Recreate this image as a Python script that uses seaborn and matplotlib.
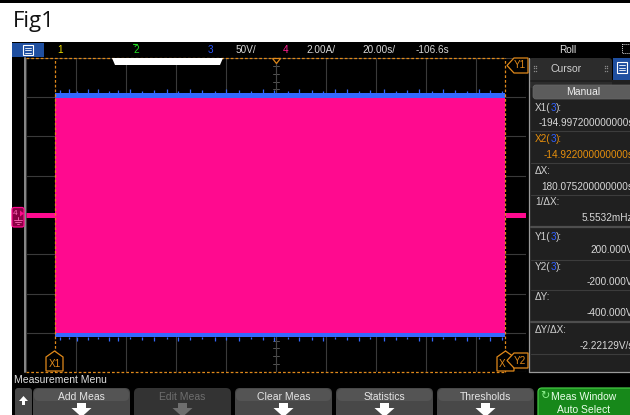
import numpy as np
import matplotlib
matplotlib.use("Agg")
import matplotlib.pyplot as plt
from matplotlib.patches import Rectangle, Polygon, FancyBboxPatch
import seaborn as sns

# scope settings
ch3_scale = 50.0      # V/div
ch4_scale = 2.0       # A/div
t_div = 20.0          # s/div
t_center = -106.6     # s
t_left = t_center - 5 * t_div
t_right = t_center + 5 * t_div

# channel 4 (current) envelope
ch4_t = [-206.6, -194.9972, -194.9972, -14.922, -14.922, -6.6]
ch4_hi = [0.0, 0.0, 5.95, 5.95, 0.0, 0.0]
ch4_lo = [0.0, 0.0, -6.0, -6.0, 0.0, 0.0]

# channel 3 (voltage) envelope
ch3_t = [-206.6, -194.9972, -194.9972, -14.922, -14.922, -6.6]
ch3_hi = [0.0, 0.0, 155.0, 155.0, 0.0, 0.0]
ch3_lo = [0.0, 0.0, -155.0, -155.0, 0.0, 0.0]

# noise spikes on the ch3 envelope edges
spk_t = [-193.2, -189.5, -186.1, -181.7, -178.0, -173.4, -169.8, -164.9, -160.3, -155.6,
         -150.2, -145.9, -141.1, -136.4, -131.0, -126.7, -121.5, -116.8, -111.9, -107.3,
         -102.0, -97.6, -92.4, -87.9, -83.1, -78.2, -73.5, -68.9, -63.6, -58.8,
         -54.1, -49.5, -44.2, -39.7, -35.0, -30.3, -25.6, -21.0, -16.4]
spk_hi = [159, 160, 158, 160, 161, 158, 159, 160, 158, 159, 161, 158, 160, 159, 158, 160,
          159, 158, 161, 159, 158, 160, 159, 158, 160, 161, 158, 159, 160, 158, 159, 161,
          158, 160, 159, 158, 160, 159, 158]
spk_lo = [-159, -158, -161, -159, -158, -160, -161, -158, -159, -160, -158, -161, -159, -158,
          -160, -159, -161, -158, -159, -160, -158, -161, -159, -160, -158, -159, -161, -158,
          -160, -159, -158, -161, -160, -158, -159, -161, -158, -160, -159]

# cursors
x1_val = -194.9972
x2_val = -14.922
y1_val = 200.0
y2_val = -200.0

status_items = [("1", "#f0e000"), ("2", "#22dd22"), ("3", "#2a55ff"), ("50V/", "#d8d8d8"),
                ("4", "#ff2090"), ("2.00A/", "#d8d8d8"), ("20.00s/", "#d8d8d8"),
                ("-106.6s", "#d8d8d8")]
status_x = [57, 133, 208, 236, 283, 306, 362, 416]

readout_labels = [[("X1(", "#d0d0d0"), ("3", "#3060ff"), ("):", "#d0d0d0")],
                  [("X2(", "#e8900c"), ("3", "#3060ff"), ("):", "#e8900c")],
                  [("ΔX:", "#d0d0d0")],
                  [("1/ΔX:", "#d0d0d0")],
                  [("Y1(", "#d0d0d0"), ("3", "#3060ff"), ("):", "#d0d0d0")],
                  [("Y2(", "#d0d0d0"), ("3", "#3060ff"), ("):", "#d0d0d0")],
                  [("ΔY:", "#d0d0d0")],
                  [("ΔY/ΔX:", "#d0d0d0")]]
readout_values = ["-194.997200000000s", "-14.922000000000s", "180.075200000000s", "5.5532mHz",
                  "200.000V", "-200.000V", "-400.000V", "-2.22129V/s"]
readout_colors = ["#d8d8d8", "#e8900c", "#d8d8d8", "#d8d8d8", "#d8d8d8", "#d8d8d8", "#d8d8d8", "#d8d8d8"]
label_y = [108, 139, 171, 202, 237, 267, 297, 330]
value_y = [123, 155, 187, 218, 250, 282, 313, 346]

buttons = ["Add Meas", "Edit Meas", "Clear Meas", "Statistics", "Thresholds"]
button_x = [33, 134, 235, 336, 437]

pink = "#ff0a8f"
blue = "#3468ff"
orange = "#e0891a"

sns.set_theme(style="dark")
plt.rcParams["font.family"] = ["Liberation Sans", "DejaVu Sans"]

fig = plt.figure(figsize=(6.3, 4.15), dpi=100)
fig.patch.set_facecolor("white")

# background / chrome in pixel coordinates
bg = fig.add_axes([0, 0, 1, 1], zorder=0)
bg.set_xlim(0, 630)
bg.set_ylim(415, 0)
bg.axis("off")


def rect(a, x0, y0, x1, y1, color, **kw):
    a.add_patch(Rectangle((x0, y0), x1 - x0, y1 - y0, facecolor=color, edgecolor="none", **kw))


rect(bg, 0, 0, 630, 3, "black")
bg.text(13, 22, "Fig1", fontsize=16, family=["Open Sans", "DejaVu Sans"], color="#111111",
        va="center", ha="left")
rect(bg, 12, 42, 630, 415, "black")

# status bar
rect(bg, 12, 43, 44, 57, "#1f4fa0")
bg.add_patch(Rectangle((23, 45.5), 10, 9.5, fill=False, edgecolor="white", lw=0.8))
for yy in (48, 50.3, 52.6):
    bg.plot([25, 31], [yy, yy], color="white", lw=0.6)
for (txt, col), xx in zip(status_items, status_x):
    bg.text(xx, 50, txt, color=col, fontsize=7.2, va="center", ha="left")
bg.plot([133, 137], [44.5, 44.5], color="#22dd22", lw=0.8)
bg.text(568, 50, "Roll", color="#e0e0e0", fontsize=7.2, va="center", ha="center")
bg.add_patch(Rectangle((622, 44), 10, 9, fill=False, edgecolor="#dddddd", lw=0.7, ls=(0, (1, 1))))

# left border of the graticule
bg.plot([25, 25], [58, 372], color="#8a8a8a", lw=1.4)

# cursor panel
rect(bg, 529, 80, 630, 372, "#202020")
bg.add_patch(FancyBboxPatch((529, 58), 83, 30, boxstyle="round,pad=0,rounding_size=3",
                            facecolor="#2c2c2c", edgecolor="none"))
rect(bg, 529, 80, 630, 82, "#202020")
rect(bg, 613, 58, 630, 80, "#1f4fa0")
bg.add_patch(Rectangle((617, 62.5), 10, 11, fill=False, edgecolor="white", lw=0.8))
for yy in (65.5, 68, 70.5):
    bg.plot([619, 625], [yy, yy], color="white", lw=0.6)
bg.plot([529, 529], [58, 372], color="#9a9a9a", lw=0.9)
bg.plot([529, 630], [372, 372], color="#9a9a9a", lw=0.9)
for dx in (533.5, 535.8, 604.5, 606.8):
    for dy in (66, 68.5, 71):
        bg.plot(dx, dy, marker="s", ms=0.9, color="#8a8a8a", mew=0)
bg.text(566, 69.5, "Cursor", color="#d0d0d0", fontsize=7.5, va="center", ha="center")
bg.add_patch(FancyBboxPatch((533, 85), 104, 14, boxstyle="round,pad=0,rounding_size=3",
                            facecolor="#5c5c5c", edgecolor="#6a6a6a", lw=0.5))
bg.text(583, 92, "Manual", color="#eeeeee", fontsize=7.5, va="center", ha="center")

for yy in (131, 163, 195, 260, 290, 354):
    bg.plot([531, 630], [yy, yy], color="#3c3c3c", lw=0.8)
for yy in (227, 322):
    bg.plot([531, 630], [yy, yy], color="#4e4e4e", lw=1.6)

fig.canvas.draw()
renderer = fig.canvas.get_renderer()
for parts, yy in zip(readout_labels, label_y):
    xx = 535
    for txt, col in parts:
        t = bg.text(xx, yy, txt, color=col, fontsize=7.2, va="center", ha="left")
        xx += t.get_window_extent(renderer=renderer).width
# values are right-aligned past the panel edge, so the last character is clipped as on the scope
for txt, col, yy in zip(readout_values, readout_colors, value_y):
    bg.text(633.5, yy, txt, color=col, fontsize=7.2, va="center", ha="right")

# measurement menu
bg.text(14, 380, "Measurement Menu", color="#e0e0e0", fontsize=7.5, va="center", ha="left")


def down_arrow(cx, color):
    bg.add_patch(Polygon([(cx - 4.5, 403), (cx + 4.5, 403), (cx + 4.5, 408), (cx + 10, 408),
                          (cx, 417), (cx - 10, 408), (cx - 4.5, 408)], closed=True,
                         facecolor=color, edgecolor="none"))


bg.add_patch(FancyBboxPatch((15, 388), 17, 35, boxstyle="round,pad=0,rounding_size=3",
                            facecolor="#474747", edgecolor="none"))
bg.add_patch(Polygon([(19, 401), (28, 401), (23.5, 396)], closed=True, facecolor="white",
                     edgecolor="none"))
rect(bg, 22, 401, 25, 405, "white")
for name, bx in zip(buttons, button_x):
    grey = name == "Edit Meas"
    bg.add_patch(FancyBboxPatch((bx, 388), 97, 35, boxstyle="round,pad=0,rounding_size=5",
                                facecolor="#333333" if grey else "#484848", edgecolor="none"))
    if not grey:
        bg.add_patch(FancyBboxPatch((bx + 1, 389), 95, 12, boxstyle="round,pad=0,rounding_size=5",
                                    facecolor="#545454", edgecolor="none"))
    bg.text(bx + 48.5, 396.5, name, color="#6e6e6e" if grey else "#e6e6e6", fontsize=7.5,
            va="center", ha="center")
    down_arrow(bx + 48.5, "#6e6e6e" if grey else "white")
bg.add_patch(FancyBboxPatch((538, 388), 100, 35, boxstyle="round,pad=0,rounding_size=4",
                            facecolor="#17881a", edgecolor="#44c844", lw=0.9))
bg.text(545, 396, "↻", color="#8ef08e", fontsize=8, va="center", ha="center",
        family=["DejaVu Sans"])
bg.text(584, 396.5, "Meas Window", color="#eaffea", fontsize=7.5, va="center", ha="center")
bg.text(584, 409.5, "Auto Select", color="#eaffea", fontsize=7.5, va="center", ha="center")

# graticule with the traces
ax = fig.add_axes([26 / 630, (415 - 372) / 415, 500 / 630, 314 / 415], zorder=1)
ax.set_facecolor("black")
ax.set_xlim(t_left, t_right)
ax.set_ylim(-4, 4)
ax.set_xticks(t_left + t_div * np.arange(11))
ax.set_yticks(np.arange(-4, 5))
ax.tick_params(length=0, labelbottom=False, labelleft=False)
ax.grid(True, color="#3a3a3a", lw=0.8)
for s in ax.spines.values():
    s.set_visible(False)
ax.set_xlabel("")
ax.set_ylabel("")

# minor ticks on the centre vertical line (under the traces)
for yy in np.arange(-4, 4.01, 0.2):
    ax.plot([t_center - 1.2, t_center + 1.2], [yy, yy], color="#555555", lw=0.7, zorder=0.6)
ax.plot([t_center, t_center], [-4, 4], color="#444444", lw=0.8, zorder=0.6)

# channel 3
ax.fill_between(ch3_t, np.array(ch3_lo) / ch3_scale, np.array(ch3_hi) / ch3_scale,
                color=blue, lw=0, zorder=1)
ax.vlines(spk_t, 155 / ch3_scale, np.array(spk_hi) / ch3_scale, color=blue, lw=0.9, zorder=1)
ax.vlines(spk_t, -155 / ch3_scale, np.array(spk_lo) / ch3_scale, color=blue, lw=0.9, zorder=1)

# channel 4
ax.fill_between(ch4_t, np.array(ch4_lo) / ch4_scale, np.array(ch4_hi) / ch4_scale,
                color=pink, lw=0, zorder=2)
sns.lineplot(x=ch4_t[:2], y=np.array(ch4_hi[:2]) / ch4_scale, ax=ax, color=pink, lw=3.6,
             solid_capstyle="butt", zorder=2)
sns.lineplot(x=ch4_t[-2:], y=np.array(ch4_hi[-2:]) / ch4_scale, ax=ax, color=pink, lw=3.6,
             solid_capstyle="butt", zorder=2)

# cursors
dash = (0, (2.2, 1.6))
for xv in (x1_val, x2_val):
    ax.axvline(xv, color=orange, lw=0.9, ls=dash, clip_on=False, zorder=3)
for yv in (y1_val, y2_val):
    ax.plot([t_left, x2_val], [yv / ch3_scale] * 2, color=orange, lw=0.9, ls=dash,
            clip_on=False, zorder=3)

# overlay markers in pixel coordinates
ov = fig.add_axes([0, 0, 1, 1], zorder=2)
ov.set_xlim(0, 630)
ov.set_ylim(415, 0)
ov.axis("off")
ov.patch.set_alpha(0)

ov.add_patch(Polygon([(112, 58), (223, 58), (220, 65), (115, 65)], closed=True,
                     facecolor="white", edgecolor="none"))
ov.add_patch(Polygon([(272.5, 58.5), (280.5, 58.5), (276.5, 63.5)], closed=True,
                     facecolor="black", edgecolor=orange, lw=0.9))

ov.add_patch(Polygon([(46, 371), (46, 357), (54.5, 351), (63, 357), (63, 371)], closed=True,
                     facecolor="black", edgecolor=orange, lw=0.9))
ov.text(54.5, 364, "X1", color=orange, fontsize=7.2, va="center", ha="center")
ov.add_patch(Polygon([(497, 371), (497, 357), (505.5, 351), (514, 357), (514, 371)], closed=True,
                     facecolor="black", edgecolor=orange, lw=0.9))
ov.text(502, 364, "X", color=orange, fontsize=7.2, va="center", ha="center")
ov.add_patch(Polygon([(507, 360.5), (514, 353), (528, 353), (528, 368), (514, 368)], closed=True,
                     facecolor="black", edgecolor=orange, lw=0.9))
ov.text(520, 360.5, "Y2", color=orange, fontsize=7.2, va="center", ha="center")
ov.add_patch(Polygon([(507, 65.5), (514, 58), (528, 58), (528, 73), (514, 73)], closed=True,
                     facecolor="black", edgecolor=orange, lw=0.9))
ov.text(520, 65.5, "Y1", color=orange, fontsize=7.2, va="center", ha="center")

# channel 4 ground marker
ov.add_patch(FancyBboxPatch((12, 207.5), 12, 19.5, boxstyle="round,pad=0,rounding_size=2",
                            facecolor="#8a0044", edgecolor=pink, lw=0.9))
ov.text(15.5, 213, "4", color="#ff6ab8", fontsize=6, va="center", ha="center")
ov.add_patch(Polygon([(20, 210.5), (24, 213.5), (20, 216.5)], closed=True, facecolor=pink,
                     edgecolor="none"))
for yy, hw in ((219.5, 4), (221.5, 2.7), (223.5, 1.4)):
    ov.plot([18 - hw, 18 + hw], [yy, yy], color="#ff6ab8", lw=0.6)
ov.plot([18, 18], [216.5, 219.5], color="#ff6ab8", lw=0.6)

fig.savefig("out.png", dpi=100)
